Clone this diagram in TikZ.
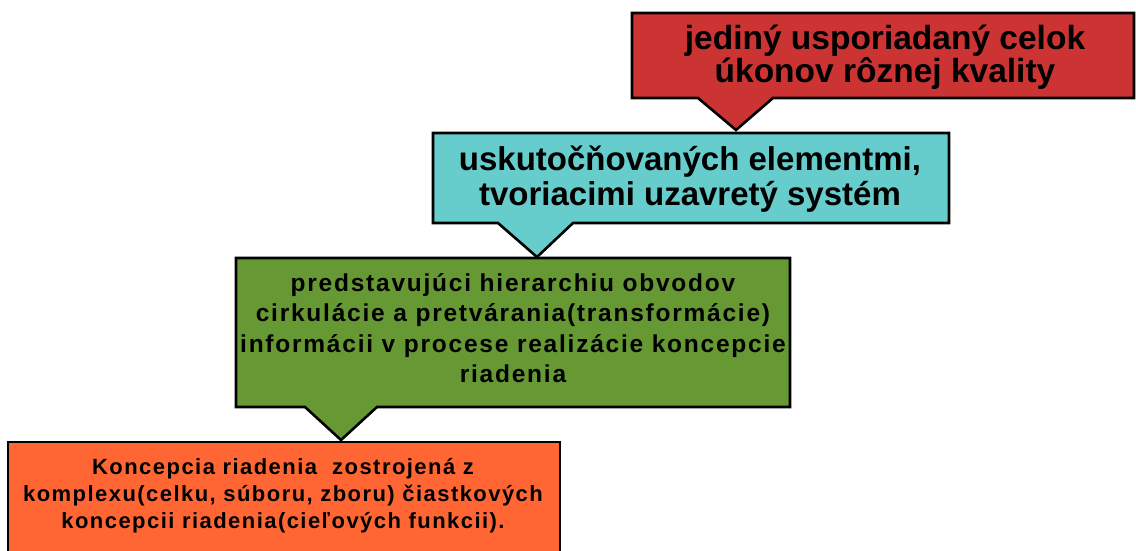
\documentclass[tikz,border=0pt]{standalone}
\usepackage{fontspec}
\setmainfont{Liberation Sans}
\definecolor{cred}{HTML}{CC3333}
\definecolor{ccyan}{HTML}{66CCCC}
\definecolor{cgreen}{HTML}{669933}
\definecolor{corange}{HTML}{FF6633}
\tikzset{
  callout/.style={draw=black, line width=2.6pt, line join=miter},
  txt/.style={align=center, inner sep=0pt, text=black},
}
\begin{document}
\begin{tikzpicture}[x=1pt,y=-1pt]
\useasboundingbox (0,0) rectangle (1136,550);
\clip (0,0) rectangle (1136,550);
% red
\path[callout, fill=cred] (632,13) -- (1134,13) -- (1134,98) -- (773,98) -- (736,130) -- (698,98) -- (632,98) -- cycle;
\node[txt, font=\fontsize{33.5}{32.5}\selectfont\bfseries] (red) at (885,57) {jediný usporiadaný celok\\úkonov rôznej kvality};
% cyan
\path[callout, fill=ccyan] (433,133) -- (949,133) -- (949,223) -- (573,223) -- (537,257) -- (498,223) -- (433,223) -- cycle;
\node[txt, font=\fontsize{33}{35}\selectfont\bfseries] (cyan) at (690,179) {uskutočňovaných elementmi,\\tvoriacimi uzavretý systém};
% green
\path[callout, fill=cgreen] (236,258) -- (790,258) -- (790,407) -- (377,407) -- (341,440) -- (305,407) -- (236,407) -- cycle;
\node[txt, font=\fontsize{24.5}{30.3}\selectfont\bfseries\addfontfeature{LetterSpace=7.2}] (green) at (513,328) {predstavujúci hierarchiu obvodov\\cirkulácie a pretvárania(transformácie)\\informácii v procese realizácie koncepcie\\riadenia};
% orange
\path[callout, fill=corange] (8,442) rectangle (560,560);
\node[txt, font=\fontsize{22}{27}\selectfont\bfseries\addfontfeature{LetterSpace=6.6}] (orange) at (283,496) {Koncepcia riadenia\ \ zostrojená z\\komplexu(celku, súboru, zboru) čiastkových\\koncepcii riadenia(cieľových funkcii).};
\end{tikzpicture}
\end{document}
